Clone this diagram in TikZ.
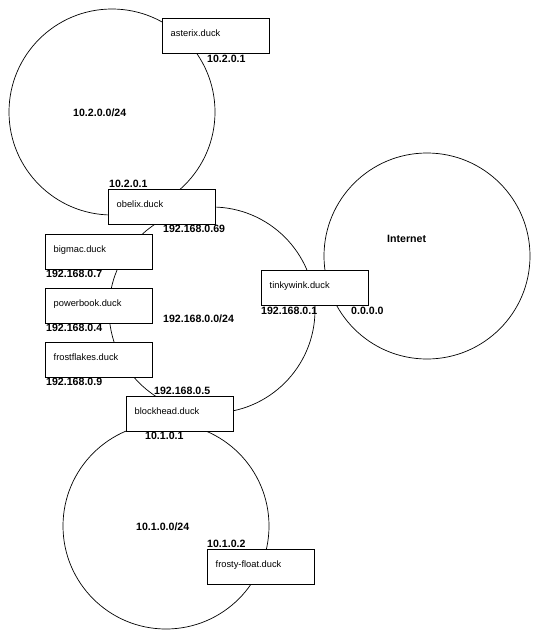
\documentclass[tikz,border=0pt]{standalone}
\usepackage{fontspec}
\setmainfont{Liberation Sans}
\usetikzlibrary{calc}
\begin{document}
\begin{tikzpicture}[x=1pt,y=-1pt,
  net/.style={draw, circle, line width=0.7pt, minimum size=206pt, inner sep=0pt},
  host/.style={draw, fill=white, line width=0.8pt, minimum width=107pt, minimum height=35pt, inner sep=0pt, anchor=north west},
  hosttext/.style={anchor=base west, inner sep=0pt, font=\fontsize{9.3}{11}\selectfont},
  addr/.style={anchor=base west, inner sep=0pt, font=\bfseries\fontsize{10.6}{12}\selectfont}]
\useasboundingbox (0,0) rectangle (540,640);
% networks
\node[net] (n102) at (112,112) {};
\node[net] (n192) at (212,310) {};
\node[net] (inet) at (427,256) {};
\node[net] (n101) at (166,526) {};
% hosts
\node[host] (asterix) at (162,18) {};
\node[host] (obelix) at (108,189) {};
\node[host] (bigmac) at (45,234) {};
\node[host] (powerbook) at (45,288) {};
\node[host] (frostflakes) at (45,342) {};
\node[host] (blockhead) at (126,396) {};
\node[host] (tinkywink) at (261,270) {};
\node[host] (frostyfloat) at (207,549) {};
\node[hosttext] (t1) at ($(asterix.north west)+(8.5,18)$) {asterix.duck};
\node[hosttext] (t2) at ($(obelix.north west)+(8.5,18)$) {obelix.duck};
\node[hosttext] (t3) at ($(bigmac.north west)+(8.5,18)$) {bigmac.duck};
\node[hosttext] (t4) at ($(powerbook.north west)+(8.5,18)$) {powerbook.duck};
\node[hosttext] (t5) at ($(frostflakes.north west)+(8.5,18)$) {frostflakes.duck};
\node[hosttext] (t6) at ($(blockhead.north west)+(8.5,18)$) {blockhead.duck};
\node[hosttext] (t7) at ($(tinkywink.north west)+(8.5,18)$) {tinkywink.duck};
\node[hosttext] (t8) at ($(frostyfloat.north west)+(8.5,18)$) {frosty-float.duck};
% addresses and network labels
\node[addr] (a1) at (207,62.8) {10.2.0.1};
\node[addr] (a2) at (73,116.8) {10.2.0.0/24};
\node[addr] (a3) at (109,187.8) {10.2.0.1};
\node[addr] (a4) at (163,232.8) {192.168.0.69};
\node[addr] (a5) at (46,277.8) {192.168.0.7};
\node[addr] (a6) at (46,331.8) {192.168.0.4};
\node[addr] (a7) at (163,322.8) {192.168.0.0/24};
\node[addr] (a8) at (46,385.8) {192.168.0.9};
\node[addr] (a9) at (154,394.8) {192.168.0.5};
\node[addr] (a10) at (145,439.8) {10.1.0.1};
\node[addr] (a11) at (387,242.8) {Internet};
\node[addr] (a12) at (261,314.8) {192.168.0.1};
\node[addr] (a13) at (351,314.8) {0.0.0.0};
\node[addr] (a14) at (136,530.8) {10.1.0.0/24};
\node[addr] (a15) at (207,547.8) {10.1.0.2};
\end{tikzpicture}
\end{document}
